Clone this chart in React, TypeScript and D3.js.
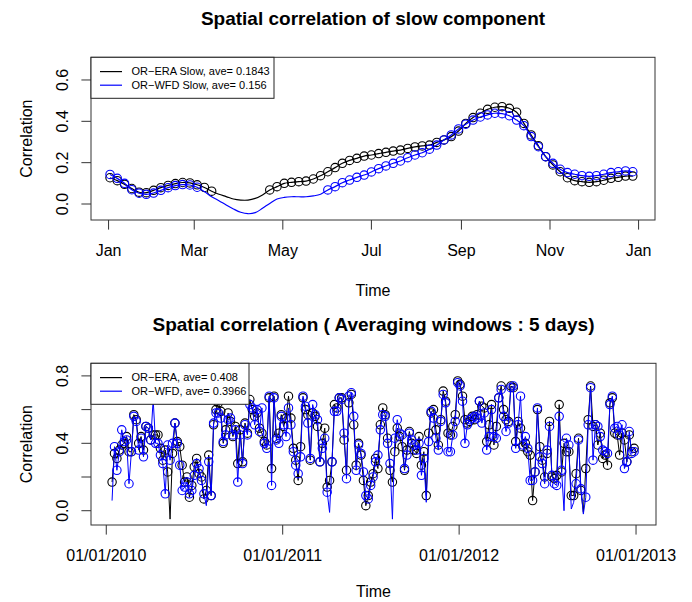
import React from "react";
import * as d3 from "d3";

const FONT = '"Liberation Sans", Arial, Helvetica, sans-serif';

// ---- top panel: slow component, one value every 5 days from Jan 2 (2001 used as a dummy year)
const slowStart = Date.UTC(2001, 0, 1);
const eraSlow = [
  0.127, 0.113, 0.095, 0.075, 0.057, 0.055, 0.066, 0.079, 0.09, 0.099, 0.104, 0.102, 0.093,
  0.08, 0.062, 0.047, 0.036, 0.024, 0.019, 0.019, 0.027, 0.044, 0.068, 0.084, 0.1, 0.105,
  0.108, 0.111, 0.121, 0.137, 0.156, 0.176, 0.197, 0.211, 0.221, 0.232, 0.237, 0.244, 0.25,
  0.256, 0.261, 0.269, 0.276, 0.281, 0.285, 0.298, 0.31, 0.326, 0.353, 0.39, 0.418, 0.439,
  0.458, 0.468, 0.471, 0.463, 0.444, 0.39, 0.334, 0.282, 0.229, 0.189, 0.156, 0.127, 0.113,
  0.108, 0.105, 0.108, 0.115, 0.124, 0.129, 0.135, 0.135,
];
const wfdSlow = [
  0.143, 0.124, 0.1, 0.069, 0.052, 0.047, 0.053, 0.066, 0.079, 0.089, 0.094, 0.092, 0.081,
  0.06, 0.035, 0.016, -0.005, -0.024, -0.04, -0.047, -0.042, -0.021, 0.003, 0.024, 0.032,
  0.035, 0.035, 0.035, 0.039, 0.047, 0.068, 0.084, 0.103, 0.116, 0.129, 0.14, 0.155, 0.171,
  0.184, 0.197, 0.208, 0.224, 0.237, 0.248, 0.265, 0.285, 0.31, 0.334, 0.363, 0.386, 0.406,
  0.421, 0.431, 0.439, 0.437, 0.427, 0.406, 0.379, 0.326, 0.277, 0.229, 0.197, 0.168, 0.152,
  0.144, 0.137, 0.134, 0.137, 0.144, 0.152, 0.156, 0.16, 0.156,
];
// points drawn as plain line (no circle)
const eraSlowBare = d3.range(15, 22);
const wfdSlowBare = d3.range(13, 30);
const monthLabels = ["Jan", "Mar", "May", "Jul", "Sep", "Nov", "Jan"];
const slowYTicks = [0, 0.2, 0.4, 0.6];
const slowYLabels = ["0.0", "0.2", "0.4", "0.6"];

// ---- bottom panel: 5-day windows from Jan 13 2010
const winStart = Date.UTC(2010, 0, 1);
const era5 = [
  0.17, 0.34, 0.31, 0.36, 0.39, 0.40, 0.44, 0.35, 0.35, 0.57, 0.54, 0.40, 0.44, 0.36, 0.50,
  0.49, 0.42, 0.45, 0.45, 0.45, 0.37, 0.30, 0.36, 0.23, -0.05, 0.34, 0.52, 0.41, 0.38, 0.27,
  0.17, 0.20, 0.08, 0.15, 0.26, 0.31, 0.22, 0.20, 0.07, 0.12, 0.33, 0.09, 0.51, 0.60, 0.64,
  0.59, 0.40, 0.48, 0.58, 0.53, 0.44, 0.50, 0.28, 0.48, 0.29, 0.52, 0.46, 0.66, 0.60, 0.56,
  0.58, 0.49, 0.46, 0.41, 0.39,
  0.67, 0.25, 0.68, 0.43, 0.46, 0.57, 0.50, 0.55, 0.68, 0.55, 0.37, 0.30, 0.18, 0.38, 0.67,
  0.60, 0.57, 0.30, 0.58, 0.56, 0.50, 0.29, 0.40, 0.49, 0.14, 0.18, 0.29, 0.63, 0.61, 0.67,
  0.67, 0.42, 0.24, 0.64, 0.69, 0.51, 0.27, 0.40, 0.33, 0.18, 0.03, 0.09, 0.17, 0.22, 0.31,
  0.25, 0.51, 0.61, 0.57, 0.43, 0.24, 0.17, 0.35, 0.49, 0.44, 0.38, 0.24, 0.36, 0.47, 0.40,
  0.36, 0.34, 0.44, 0.27, 0.35, 0.09, 0.46, 0.58, 0.60, 0.48, 0.39, 0.54, 0.71, 0.65, 0.46,
  0.45, 0.50, 0.57, 0.77, 0.75, 0.68, 0.54, 0.52, 0.53, 0.56, 0.54, 0.57, 0.65, 0.62, 0.61,
  0.41, 0.51, 0.63, 0.39, 0.50, 0.67, 0.74, 0.60, 0.54, 0.53, 0.74, 0.73, 0.41, 0.53, 0.49,
  0.38, 0.40, 0.35, 0.33, 0.06, 0.23, 0.60, 0.38, 0.30, 0.20, 0.34, 0.53, 0.20, 0.19, 0.21,
  0.63, 0.23, 0.40, 0.35, 0.35, 0.09, 0.09, 0.22, 0.43, 0.12, -0.01, 0.25, 0.54, 0.74, 0.50,
  0.51, 0.39, 0.46, 0.31, 0.33, 0.27, 0.64, 0.67, 0.46, 0.45, 0.33, 0.46, 0.42, 0.29, 0.45,
  0.35, 0.37,
];
const wfd5 = [
  0.06, 0.38, 0.24, 0.35, 0.48, 0.41, 0.42, 0.16, 0.35, 0.56, 0.53, 0.36, 0.43, 0.32, 0.50,
  0.49, 0.42, 0.66, 0.40, 0.40, 0.33, 0.28, 0.10, 0.39, 0.30, 0.40, 0.52, 0.40, 0.27, 0.12,
  0.14, 0.17, 0.10, 0.12, 0.21, 0.28, 0.25, 0.18, 0.10, 0.03, 0.29, 0.09, 0.52, 0.58, 0.58,
  0.55, 0.41, 0.45, 0.54, 0.55, 0.45, 0.48, 0.17, 0.45, 0.28, 0.51, 0.45, 0.63, 0.61, 0.51,
  0.60, 0.47, 0.61, 0.40, 0.37,
  0.68, 0.15, 0.67, 0.42, 0.40, 0.56, 0.51, 0.44, 0.61, 0.51, 0.35, 0.27, 0.22, 0.32, 0.68,
  0.62, 0.52, 0.31, 0.63, 0.57, 0.54, 0.29, 0.37, 0.43, 0.11, -0.01, 0.29, 0.59, 0.59, 0.67,
  0.66, 0.46, 0.19, 0.68, 0.70, 0.56, 0.24, 0.39, 0.34, 0.23, 0.09, 0.07, 0.15, 0.20, 0.29,
  0.33, 0.48, 0.57, 0.56, 0.40, 0.28, -0.05, 0.43, 0.54, 0.46, 0.45, 0.25, 0.33, 0.46, 0.42,
  0.39, 0.36, 0.40, 0.21, 0.31, 0.05, 0.41, 0.59, 0.55, 0.43, 0.36, 0.53, 0.69, 0.64, 0.35,
  0.35, 0.45, 0.53, 0.76, 0.74, 0.65, 0.40, 0.51, 0.54, 0.55, 0.56, 0.55, 0.65, 0.52, 0.58,
  0.36, 0.44, 0.60, 0.44, 0.43, 0.67, 0.72, 0.56, 0.47, 0.52, 0.73, 0.74, 0.37, 0.51, 0.68,
  0.39, 0.44, 0.37, 0.18, 0.18, 0.23, 0.61, 0.32, 0.28, 0.16, 0.36, 0.50, 0.21, 0.16, 0.15,
  0.56, 0.24, 0.00, 0.43, 0.39, 0.01, 0.05, 0.16, 0.42, 0.13, -0.02, 0.08, 0.51, 0.73, 0.30,
  0.51, 0.50, 0.44, 0.36, 0.35, 0.34, 0.63, 0.68, 0.49, 0.50, 0.45, 0.51, 0.25, 0.29, 0.47,
  0.34, 0.35,
];
// windows whose point is drawn as a bare line vertex (no circle)
const era5Bare = [24, 195];
const wfd5Bare = [0, 39, 90, 116, 130, 187, 190, 191, 195];
const yearLabels = ["01/01/2010", "01/01/2011", "01/01/2012", "01/01/2013"];
const winYTicks = [0, 0.2, 0.4, 0.6, 0.8];
const winYLabels = ["0.0", "", "0.4", "", "0.8"];

const day = (t0: number, n: number) => new Date(t0 + n * 86400000);

type Series = { values: number[]; color: string; bare?: number[]; smooth?: boolean };
type Box = { l: number; r: number; t: number; b: number };

function Panel(props: {
  box: Box;
  title: string;
  x: d3.ScaleTime<number, number>;
  y: d3.ScaleLinear<number, number>;
  dates: Date[];
  xTicks: Date[];
  xLabels: string[];
  yTicks: number[];
  yLabels: string[];
  series: Series[];
  legendW: number;
  legend: { label: string; color: string }[];
  xTitleY: number;
}) {
  const { box, x, y, dates } = props;
  const cx = (box.l + box.r) / 2;
  const cy = (box.t + box.b) / 2;
  return (
    <g fontFamily={FONT}>
      <text x={cx} y={box.t - 32.5} textAnchor="middle" fontSize={19} fontWeight="bold">
        {props.title}
      </text>
      {props.series.map((s, si) => {
        const pts = s.values.map((v, i) => [x(dates[i]), y(v)] as [number, number]);
        const line = d3.line().curve(s.smooth ? d3.curveCatmullRom.alpha(0.5) : d3.curveLinear);
        const bare = new Set(s.bare || []);
        return (
          <g key={si}>
            <path d={line(pts) || ""} fill="none" stroke={s.color} strokeWidth={s.smooth ? 1.2 : 1} />
            {pts.map((p, i) =>
              bare.has(i) ? null : (
                <circle key={i} cx={p[0]} cy={p[1]} r={4.2} fill="none" stroke={s.color} strokeWidth={1.1} />
              )
            )}
          </g>
        );
      })}
      <rect x={box.l} y={box.t} width={box.r - box.l} height={box.b - box.t} fill="none" stroke="#333" strokeWidth={1} />
      {/* x axis */}
      {props.xTicks.map((t, i) => (
        <g key={i}>
          <line x1={x(t)} x2={x(t)} y1={box.b} y2={box.b + 9.6} stroke="#333" />
          <text x={x(t)} y={box.b + 36} textAnchor="middle" fontSize={16}>
            {props.xLabels[i]}
          </text>
        </g>
      ))}
      <text x={cx} y={props.xTitleY} textAnchor="middle" fontSize={16}>Time</text>
      {/* y axis */}
      {props.yTicks.map((v, i) => (
        <g key={i}>
          <line x1={box.l - 9.6} x2={box.l} y1={y(v)} y2={y(v)} stroke="#333" />
          {props.yLabels[i] ? (
            <text transform={`translate(68,${y(v)}) rotate(-90)`} textAnchor="middle" fontSize={16}>
              {props.yLabels[i]}
            </text>
          ) : null}
        </g>
      ))}
      <text transform={`translate(31.5,${cy}) rotate(-90)`} textAnchor="middle" fontSize={16}>
        Correlation
      </text>
      {/* legend */}
      <rect x={box.l} y={box.t} width={props.legendW} height={41} fill="white" stroke="#222" strokeWidth={1} />
      {props.legend.map((it, i) => (
        <g key={i}>
          <line x1={100} x2={122} y1={box.t + 14.3 + i * 13.6} y2={box.t + 14.3 + i * 13.6} stroke={it.color} strokeWidth={1.2} />
          <text x={131.5} y={box.t + 14.3 + i * 13.6} dy="0.35em" fontSize={11}>
            {it.label}
          </text>
        </g>
      ))}
    </g>
  );
}

export default function App() {
  const topBox = { l: 91, r: 655, t: 57.3, b: 220 };
  const botBox = { l: 91, r: 656, t: 363.3, b: 525 };

  const slowDates = eraSlow.map((_, i) => day(slowStart, 1 + 5 * i));
  const xTop = d3.scaleTime().domain([day(slowStart, -12.1), day(slowStart, 376.3)]).range([topBox.l, topBox.r]);
  const yTop = d3.scaleLinear().domain([-0.0774, 0.7097]).range([topBox.b, topBox.t]);
  const monthTicks = monthLabels.map((_, i) => d3.utcMonth.offset(new Date(slowStart), 2 * i));

  const winDates = era5.map((_, i) => day(winStart, 12 + 5 * i));
  const xBot = d3.scaleTime().domain([day(winStart, -31.6), day(winStart, 1137.3)]).range([botBox.l, botBox.r]);
  const yBot = d3.scaleLinear().domain([-0.0848, 0.8748]).range([botBox.b, botBox.t]);
  const yearTicks = yearLabels.map((_, i) => new Date(Date.UTC(2010 + i, 0, 1)));

  return (
    <svg width={692} height={602} style={{ position: "absolute", left: 0, top: 0, background: "white" }}>
      <Panel
        box={topBox}
        title="Spatial correlation of slow component"
        x={xTop}
        y={yTop}
        dates={slowDates}
        xTicks={monthTicks}
        xLabels={monthLabels}
        yTicks={slowYTicks}
        yLabels={slowYLabels}
        series={[
          { values: eraSlow, color: "black", bare: eraSlowBare, smooth: true },
          { values: wfdSlow, color: "blue", bare: wfdSlowBare, smooth: true },
        ]}
        legendW={183}
        legend={[
          { label: "OR\u2212ERA Slow, ave= 0.1843", color: "black" },
          { label: "OR\u2212WFD Slow, ave= 0.156", color: "blue" },
        ]}
        xTitleY={296}
      />
      <Panel
        box={botBox}
        title="Spatial correlation ( Averaging windows : 5 days)"
        x={xBot}
        y={yBot}
        dates={winDates}
        xTicks={yearTicks}
        xLabels={yearLabels}
        yTicks={winYTicks}
        yLabels={winYLabels}
        series={[
          { values: era5, color: "black", bare: era5Bare },
          { values: wfd5, color: "blue", bare: wfd5Bare },
        ]}
        legendW={158}
        legend={[
          { label: "OR\u2212ERA, ave= 0.408", color: "black" },
          { label: "OR\u2212WFD, ave= 0.3966", color: "blue" },
        ]}
        xTitleY={597}
      />
    </svg>
  );
}
